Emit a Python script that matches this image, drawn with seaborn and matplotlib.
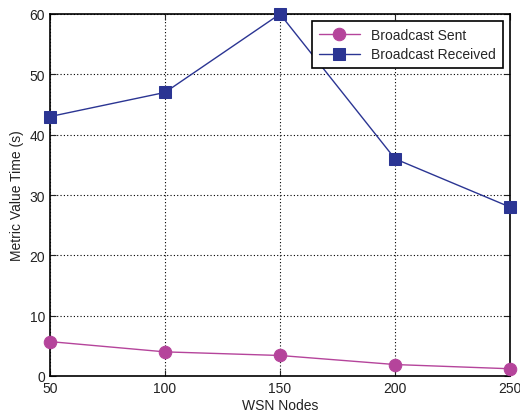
import matplotlib
matplotlib.use("Agg")
import matplotlib.pyplot as plt
import seaborn as sns
import pandas as pd

nodes = [50, 100, 150, 200, 250]
sent = [5.7, 4.0, 3.4, 1.9, 1.2]
received = [43, 47, 60, 36, 28]

sns.set_style("white")
plt.rcParams['font.family'] = ['Liberation Sans', 'DejaVu Sans']

fig = plt.figure(figsize=(5.2, 4.14), dpi=100)
ax = fig.add_axes([50/520, 1-377/414, 460/520, 362/414])

df = pd.DataFrame({"nodes": nodes, "sent": sent, "received": received})
sns.lineplot(data=df, x="nodes", y="sent", ax=ax, color="#b5449b", marker="o",
             markersize=9, markeredgecolor="#b5449b", linewidth=1, label="Broadcast Sent",
             clip_on=False, zorder=5)
sns.lineplot(data=df, x="nodes", y="received", ax=ax, color="#2b3593", marker="s",
             markersize=8, markeredgecolor="#2b3593", linewidth=1, label="Broadcast Received",
             clip_on=False, zorder=5)

ax.set_xlim(50, 250)
ax.set_ylim(0, 60)
ax.set_xticks(nodes)
ax.set_yticks([0, 10, 20, 30, 40, 50, 60])
ax.grid(True, color="black", linestyle=(0, (1, 2)), linewidth=0.8)
ax.tick_params(direction="in", length=4, labelsize=10, colors="#222222", top=True, right=True,
               bottom=True, left=True)
for s in ax.spines.values():
    s.set_color("black")
    s.set_linewidth(1.2)
ax.set_xlabel("WSN Nodes", fontsize=10, color="#222222", labelpad=2)
ax.set_ylabel("Metric Value Time (s)", fontsize=10, color="#222222")
leg = ax.legend(loc="upper right", fontsize=10, frameon=True, fancybox=False,
                edgecolor="black", framealpha=1, borderaxespad=0.5, handlelength=3.0,
                borderpad=0.5, labelspacing=0.4)
leg.get_frame().set_linewidth(1.2)
leg.set_zorder(10)

fig.savefig("out.png", dpi=100)
